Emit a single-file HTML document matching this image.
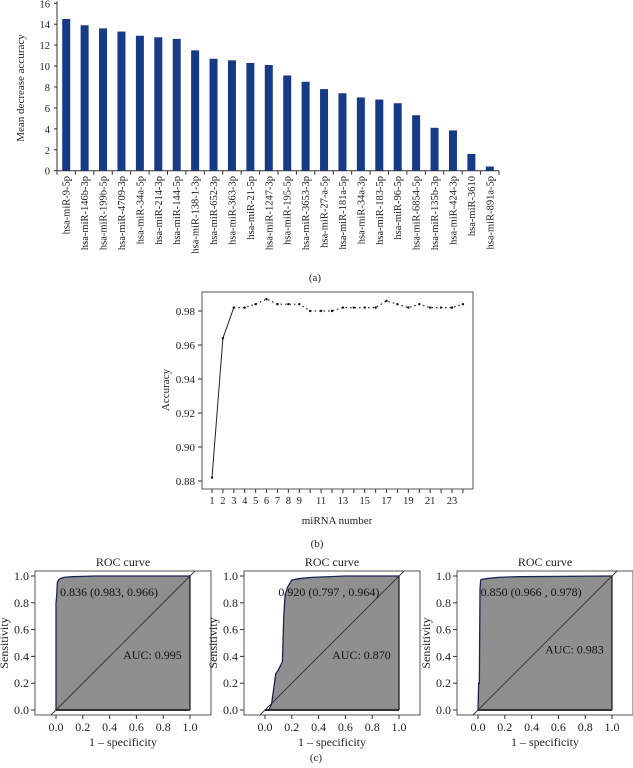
<!DOCTYPE html>
<html><head><meta charset="utf-8"><style>
body{margin:0;background:#fff}
svg{display:block;font-family:"Liberation Serif",serif}
</style></head><body>
<svg id="s" width="633" height="768" viewBox="0 0 633 768"></svg>
<script>
const barCats=["hsa-miR-9-5p","hsa-miR-146b-3p","hsa-miR-199b-5p","hsa-miR-4709-3p","hsa-miR-34a-5p","hsa-miR-214-3p","hsa-miR-144-5p","hsa-miR-138-1-3p","hsa-miR-652-3p","hsa-miR-363-3p","hsa-miR-21-5p","hsa-miR-1247-3p","hsa-miR-195-5p","hsa-miR-3653-3p","hsa-miR-27-a-5p","hsa-miR-181a-5p","hsa-miR-34a-3p","hsa-miR-183-5p","hsa-miR-96-5p","hsa-miR-6854-5p","hsa-miR-135b-3p","hsa-miR-424-3p","hsa-miR-3610","hsa-miR-891a-5p"];
const barVals=[14.5,13.9,13.6,13.3,12.9,12.75,12.6,11.5,10.7,10.55,10.3,10.1,9.1,8.5,7.8,7.4,7.0,6.8,6.45,5.3,4.1,3.85,1.6,0.4];
const barTicks=[0,2,4,6,8,10,12,14,16];
const accN=[1,2,3,4,5,6,7,8,9,10,11,12,13,14,15,16,17,18,19,20,21,22,23,24];
const accVals=[0.882,0.964,0.982,0.982,0.984,0.987,0.984,0.984,0.984,0.980,0.980,0.980,0.982,0.982,0.982,0.982,0.986,0.984,0.982,0.984,0.982,0.982,0.982,0.984];
const accTicks=[0.88,0.90,0.92,0.94,0.96,0.98];
const accXLabels=[1,2,3,4,5,6,7,8,9,11,13,15,17,19,21,23];
const rocTicks=[0,0.2,0.4,0.6,0.8,1.0];
const roc1X=[0,0,0.005,0.01,0.02,0.03,0.06,0.12,0.3,1];
const roc1Y=[0,0.8,0.85,0.95,0.97,0.98,0.99,0.995,1,1];
const roc2X=[0,0.03,0.05,0.08,0.1,0.13,0.14,0.15,0.17,0.2,0.25,0.35,0.6,1];
const roc2Y=[0,0,0.05,0.27,0.3,0.36,0.7,0.86,0.92,0.97,0.98,0.99,1,1];
const roc3X=[0,0.005,0.01,0.015,0.02,0.03,0.06,0.15,0.3,1];
const roc3Y=[0,0.2,0.2,0.9,0.97,0.975,0.98,0.99,0.995,1];
const rocAUC=["AUC: 0.995","AUC: 0.870","AUC: 0.983"];
const rocBest=["0.836 (0.983, 0.966)","0.920 (0.797 , 0.964)","0.850 (0.966 , 0.978)"];

const S=document.getElementById('s');const NS="http://www.w3.org/2000/svg";
function el(t,a,p){const e=document.createElementNS(NS,t);for(const k in a)e.setAttribute(k,a[k]);(p||S).appendChild(e);return e;}
function tx(x,y,s,a,p){const e=el('text',Object.assign({x:x,y:y,'font-size':11,fill:'#222'},a||{}),p);e.textContent=s;return e;}

// ---- (a) bar chart
const gA=el('g',{});

const ax0=57,ax1=499,ay0=170.7,ay1=3.3;
const by=v=>ay0-(v/16)*(ay0-ay1);
const bw=(ax1-ax0)/barCats.length;
el('line',{x1:ax0,y1:ay1-2,x2:ax0,y2:ay0,stroke:'#333'},gA);
el('line',{x1:ax0,y1:ay0,x2:ax1,y2:ay0,stroke:'#333'},gA);
barTicks.forEach(t=>{el('line',{x1:ax0-3,x2:ax0,y1:by(t),y2:by(t),stroke:'#333'},gA);
 const l=tx(50,by(t)+4,String(t),{'text-anchor':'end','font-size':10.5},gA);});
for(let i=0;i<=barCats.length;i++)el('line',{x1:ax0+i*bw,x2:ax0+i*bw,y1:ay0,y2:ay0+4,stroke:'#333'},gA);
barCats.forEach((c,i)=>{const cx=ax0+(i+0.5)*bw;
 const r=el('rect',{x:cx-4,y:by(barVals[i]),width:8,height:ay0-by(barVals[i]),fill:'#163a86'},gA);
 
 const l=tx(0,0,c,{'text-anchor':'end','font-size':10.5,transform:`translate(${cx+3.5},176) rotate(-90)`},gA);
 });
const yt=tx(0,0,"Mean decrease accuracy",{'text-anchor':'middle','font-size':11,transform:'translate(24,88) rotate(-90)'},gA);

const la=tx(315,281,"(a)",{'text-anchor':'middle','font-size':11});

// ---- (b) accuracy line
const gB=el('g',{});

const bx0=202,bx1=473,bt=292,bb=489;
const xb=n=>212+(n-1)*(452-212)/22;
const yb=v=>481-(v-0.88)/0.02*34;
el('rect',{x:bx0,y:bt,width:bx1-bx0,height:bb-bt,fill:'none',stroke:'#555'},gB);
accTicks.forEach(t=>{el('line',{x1:bx0-4,x2:bx0,y1:yb(t),y2:yb(t),stroke:'#333'},gB);
 const l=tx(bx0-7,yb(t)+4,t.toFixed(2),{'text-anchor':'end','font-size':11},gB);});
accN.forEach(n=>el('line',{x1:xb(n),x2:xb(n),y1:bb,y2:bb+4,stroke:'#333'},gB));
accXLabels.forEach(n=>{const l=tx(xb(n),504,String(n),{'text-anchor':'middle','font-size':10.5},gB);});
const solid=el('polyline',{points:accN.slice(0,3).map((n,i)=>xb(n)+','+yb(accVals[i])).join(' '),fill:'none',stroke:'#222','stroke-width':1},gB);

const dash=el('polyline',{points:accN.slice(2).map((n,i)=>xb(n)+','+yb(accVals[i+2])).join(' '),fill:'none',stroke:'#222','stroke-width':1.2,'stroke-dasharray':'1.5 3'},gB);

accN.forEach((n,i)=>{const p=el('circle',{cx:xb(n),cy:yb(accVals[i]),r:1.2,fill:'#111'},gB);});
const bt1=tx(0,0,"Accuracy",{'text-anchor':'middle','font-size':11,transform:'translate(169,390) rotate(-90)'},gB);
const bt2=tx(337,524,"miRNA number",{'text-anchor':'middle','font-size':11},gB);
const lb=tx(317,547,"(b)",{'text-anchor':'middle','font-size':11});

// ---- (c) ROC panels
const rocs=[[roc1X,roc1Y],[roc2X,roc2Y],[roc3X,roc3Y]];
const x0s=[56,265,478];
const autoPos=[[0.03,0.88],[0.1,0.88],[0.02,0.88]];
const aucPos=[[0.72,0.41],[0.72,0.41],[0.72,0.45]];
rocs.forEach((r,k)=>{
 const g=el('g',{});
 const X0=x0s[k],X1=X0+134,Y0=710,Y1=576;
 const xs=v=>X0+v*(X1-X0),ys=v=>Y0-v*(Y0-Y1);
 const L=X0-21,R=X1+21,T=571,B=715;
 el('rect',{x:L,y:T,width:R-L,height:B-T,fill:'#fff',stroke:'#555'},g);
 const pts=r[0].map((x,i)=>xs(x)+','+ys(r[1][i])).join(' ');
 const area=el('polygon',{points:pts+' '+xs(1)+','+ys(0),fill:'#8f8f8f',stroke:'none'},g);
 
 el('line',{x1:xs(1),y1:ys(1),x2:xs(1),y2:ys(0),stroke:'#111','stroke-width':1.2},g);
 el('line',{x1:xs(0),y1:ys(0),x2:xs(1),y2:ys(0),stroke:'#333','stroke-width':2},g);
 const c=el('polyline',{points:pts,fill:'none',stroke:'#1c2350','stroke-width':1.3},g);
 
 const dl=el('line',{x1:xs((Y0-B)/(Y0-Y1)),y1:B,x2:xs((Y0-T)/(Y0-Y1)),y2:T,stroke:'#333','stroke-width':0.9},g);
 
 rocTicks.forEach(t=>{el('line',{x1:L-4,x2:L,y1:ys(t),y2:ys(t),stroke:'#333'},g);
  el('line',{x1:xs(t),x2:xs(t),y1:B,y2:B+4,stroke:'#333'},g);
  const a=tx(L-6,ys(t)+4,t.toFixed(1),{'text-anchor':'end','font-size':12},g);
  const b=tx(xs(t),731,t.toFixed(1),{'text-anchor':'middle','font-size':12},g);});
 const ti=tx((L+R)/2,566,"ROC curve",{'text-anchor':'middle','font-size':12},g);
 const xl=tx(xs(0.5),746,"1 – specificity",{'text-anchor':'middle','font-size':12},g);
 const yl=tx(0,0,"Sensitivity",{'text-anchor':'middle','font-size':12,transform:`translate(${L-27},643) rotate(-90)`},g);
 const bp=tx(xs(autoPos[k][0]),ys(autoPos[k][1])+4,rocBest[k],{'font-size':12,fill:'#111'},g);
 const au=tx(xs(aucPos[k][0]),ys(aucPos[k][1])+4,rocAUC[k],{'text-anchor':'middle','font-size':12,fill:'#111'},g);
});
const lc=tx(316,761,"(c)",{'text-anchor':'middle','font-size':11});
</script>
</body></html>
